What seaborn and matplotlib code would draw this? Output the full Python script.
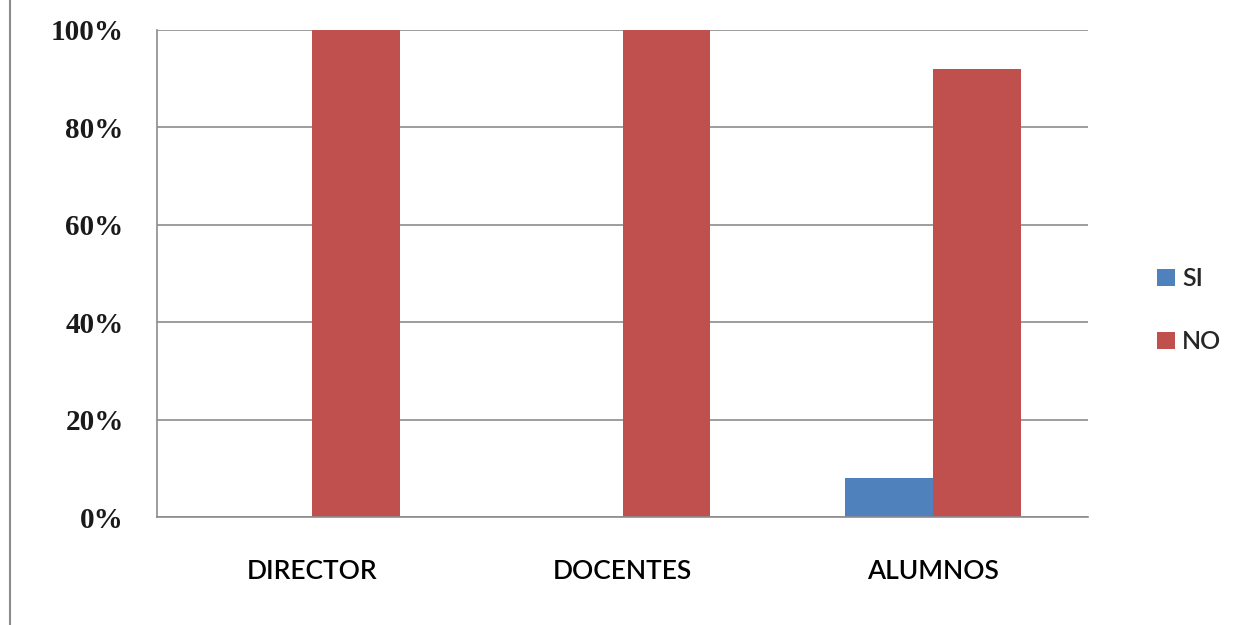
import matplotlib
matplotlib.use("Agg")
import matplotlib.pyplot as plt
import seaborn as sns
import pandas as pd
from matplotlib.ticker import FuncFormatter

categories = ["DIRECTOR", "DOCENTES", "ALUMNOS"]
series_names = ["SI", "NO"]
si_values = [0, 0, 8]
no_values = [100, 100, 92]
yticks = [0, 20, 40, 60, 80, 100]

df = pd.DataFrame({
    "cat": categories * 2,
    "serie": [series_names[0]] * 3 + [series_names[1]] * 3,
    "val": si_values + no_values,
})

sns.set_theme(style="white")
plt.rcParams['font.family'] = ['Lato', 'DejaVu Sans']

fig = plt.figure(figsize=(12.43, 6.25), dpi=100)
ax = fig.add_axes([157/1243, 1 - 517/625, (1088-157)/1243, (517-30)/625])

palette = {"SI": "#4F81BD", "NO": "#C0504D"}
sns.barplot(data=df, x="cat", y="val", hue="serie", palette=palette,
            width=0.567, ax=ax, saturation=1, legend=True, linewidth=0)

ax.set_ylim(0, 100)
ax.set_xlim(-0.5, 2.5)
ax.set_yticks(yticks)
ax.yaxis.set_major_formatter(FuncFormatter(lambda v, p: f"{int(v)}%"))
ax.grid(axis="y", color="#8c8c8c", linewidth=1.2)
ax.set_axisbelow(True)
for s in ["top", "right"]:
    ax.spines[s].set_visible(False)
for s in ["left", "bottom"]:
    ax.spines[s].set_color("#8c8c8c")
    ax.spines[s].set_linewidth(1.2)
ax.set_xlabel("")
ax.set_ylabel("")
ax.tick_params(axis="both", length=0)
ax.tick_params(axis="x", pad=30)
ax.tick_params(axis="y", pad=24)
for lbl in ax.get_xticklabels():
    lbl.set_fontsize(19)
    lbl.set_fontweight("semibold")
    lbl.set_color("black")
for lbl in ax.get_yticklabels():
    lbl.set_fontfamily(["Liberation Serif", "DejaVu Serif"])
    lbl.set_fontsize(21)
    lbl.set_fontweight("bold")
    lbl.set_color("#1a1a1a")

leg = ax.legend(loc="center left", bbox_to_anchor=(1.05, 0.425), frameon=False,
                fontsize=18, handlelength=0.7, handleheight=0.7,
                handletextpad=0.3, labelspacing=1.6)
for t in leg.get_texts():
    t.set_fontweight("semibold")

# outer chart border (left edge visible)
fig.add_artist(plt.Line2D([10/1243, 10/1243], [0, 1], color="#8c8c8c", linewidth=1.5,
                          transform=fig.transFigure))

fig.savefig("out.png", dpi=100, facecolor="white")
